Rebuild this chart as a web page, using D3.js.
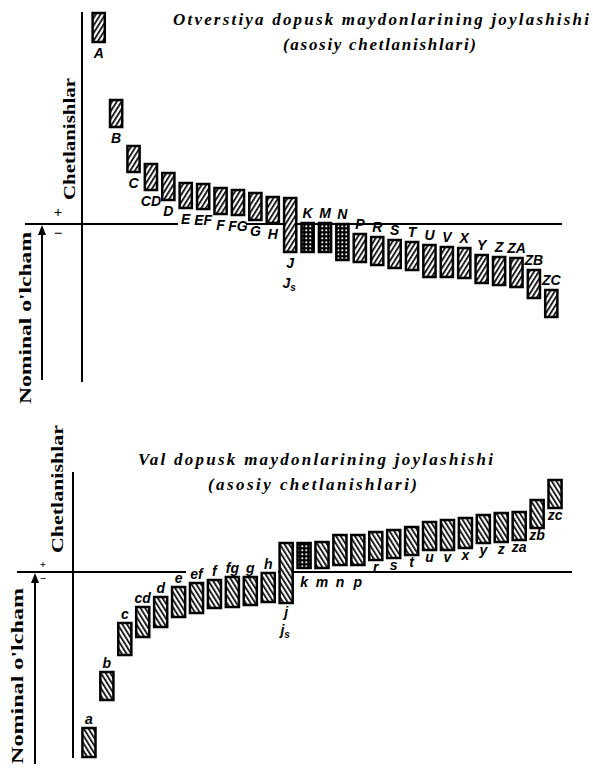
<!DOCTYPE html>
<html>
<head>
<meta charset="utf-8">
<script src="https://cdn.jsdelivr.net/npm/d3@7"></script>
<style>
  body { margin: 0; background: #fff; }
  .lbl { font-family: "Liberation Sans Narrow", "Liberation Sans", Arial, sans-serif; font-weight: bold; font-style: italic; font-size: 14px; }
  .ttl { font-family: "Liberation Serif", "DejaVu Serif", serif; font-weight: bold; font-style: italic; font-size: 17px; }
  .ax { font-family: "Liberation Serif", "DejaVu Serif", serif; font-weight: bold; font-size: 17px; }
</style>
</head>
<body>
<svg id="chart" width="593" height="768"></svg>
<script>
// hole (otverstiya) fundamental deviations, units
var holeLabels = ["A","B","C","CD","D","E","EF","F","FG","G","H","J","K","M","N","P","R","S","T","U","V","X","Y","Z","ZA","ZB","ZC"];
var holeUpper = [211, 124, 78, 60, 51, 41, 40, 36, 34, 31, 27, 26, 1, 1, 0, -10, -13, -16, -18, -21, -23, -24, -31, -33, -34, -46, -66];
var holeLower = [182, 97, 52, 34, 24, 16, 15, 10, 9, 4, 1, -28, -28, -28, -36, -38, -41, -44, -46, -53, -53, -54, -59, -61, -63, -74, -93];
var holeGrid = ["K", "M", "N"];

// shaft (val) fundamental deviations
var shaftLabels = ["a","b","c","cd","d","e","ef","f","fg","g","h","j","k","m","n","p","r","s","t","u","v","x","y","z","za","zb","zc"];
var shaftUpper = [-156, -100, -51, -35, -25, -15, -11, -8, -5, -5, -1, 29, 29, 30, 37, 37, 40, 42, 45, 50, 52, 54, 57, 59, 60, 72, 92];
var shaftLower = [-185, -128, -83, -65, -55, -45, -41, -36, -35, -33, -30, -31, 4, 4, 7, 7, 12, 14, 17, 22, 22, 24, 29, 30, 32, 44, 64];
var shaftGrid = ["k"];

var svg = d3.select("#chart");
var defs = svg.append("defs");

function hatch(id, dir) {
    var p = defs.append("pattern")
        .attr("id", id)
        .attr("patternUnits", "userSpaceOnUse")
        .attr("width", 4).attr("height", 4)
        .attr("patternTransform", "rotate(" + dir + ")");
    p.append("rect").attr("width", 4).attr("height", 4).attr("fill", "#fff");
    p.append("line").attr("x1", 0).attr("y1", 0).attr("x2", 0).attr("y2", 4)
        .attr("stroke", "#000").attr("stroke-width", 3.4);
}
hatch("hatchUp", 32);
hatch("hatchDown", -32);

var grid = defs.append("pattern")
    .attr("id", "grid")
    .attr("patternUnits", "userSpaceOnUse")
    .attr("width", 4).attr("height", 4);
grid.append("rect").attr("width", 4).attr("height", 4).attr("fill", "#000");
grid.append("rect").attr("x", 1.4).attr("y", 1.4).attr("width", 1.8).attr("height", 1.8).attr("fill", "#fff");

// ---------- top chart: holes ----------
var xTop = d3.scaleBand().domain(holeLabels).range([90, 560]).paddingInner(0.3).paddingOuter(0.15);
var yTop = d3.scaleLinear().domain([-160, 212]).range([384, 12]);

var topG = svg.append("g");

topG.append("line").attr("x1", 82).attr("x2", 82).attr("y1", yTop(212)).attr("y2", yTop(-158))
    .attr("stroke", "#000").attr("stroke-width", 2);
topG.append("line").attr("x1", 25).attr("x2", 178).attr("y1", yTop(0)).attr("y2", yTop(0))
    .attr("stroke", "#000").attr("stroke-width", 2);
topG.append("line").attr("x1", 246).attr("x2", 562).attr("y1", yTop(0)).attr("y2", yTop(0))
    .attr("stroke", "#000").attr("stroke-width", 2);

// nominal size arrow
topG.append("line").attr("x1", 42).attr("x2", 42).attr("y1", yTop(0) + 8).attr("y2", yTop(-156))
    .attr("stroke", "#000").attr("stroke-width", 2);
topG.append("path").attr("d", "M38," + (yTop(0) + 11) + " L42," + (yTop(0) + 1) + " L46," + (yTop(0) + 11) + "Z").attr("fill", "#000");

topG.append("text").attr("class", "ax").attr("x", 58).attr("y", yTop(0) - 7).attr("text-anchor", "middle").style("font-size", "15px").text("+");
topG.append("text").attr("class", "ax").attr("x", 58).attr("y", yTop(0) + 14).attr("text-anchor", "middle").style("font-size", "15px").text("−");
topG.append("text").attr("class", "ax")
    .attr("transform", "translate(75,139) rotate(-90)")
    .attr("text-anchor", "middle").attr("textLength", 122).attr("lengthAdjust", "spacingAndGlyphs")
    .text("Chetlanishlar");
topG.append("text").attr("class", "ax")
    .attr("transform", "translate(31,318) rotate(-90)")
    .attr("text-anchor", "middle").attr("textLength", 172).attr("lengthAdjust", "spacingAndGlyphs")
    .text("Nominal o'lcham");

topG.append("text").attr("class", "ttl").attr("x", 173).attr("y", 25)
    .attr("textLength", 416).attr("lengthAdjust", "spacing")
    .text("Otverstiya dopusk maydonlarining joylashishi");
topG.append("text").attr("class", "ttl").attr("x", 283).attr("y", 50)
    .attr("textLength", 193).attr("lengthAdjust", "spacing")
    .text("(asosiy chetlanishlari)");

topG.selectAll("rect.bar")
    .data(holeLabels)
    .enter()
    .append("rect")
    .attr("class", "bar")
    .attr("x", function (d) { return xTop(d); })
    .attr("width", xTop.bandwidth())
    .attr("y", function (d, i) { return yTop(holeUpper[i]); })
    .attr("height", function (d, i) { return yTop(holeLower[i]) - yTop(holeUpper[i]); })
    .attr("fill", function (d) { return holeGrid.indexOf(d) > -1 ? "url(#grid)" : "url(#hatchUp)"; })
    .attr("stroke", "#000")
    .attr("stroke-width", 2.5);

topG.selectAll("text.lbl")
    .data(holeLabels)
    .enter()
    .append("text")
    .attr("class", "lbl")
    .attr("text-anchor", "middle")
    .attr("x", function (d) { return xTop(d) + xTop.bandwidth() / 2; })
    .attr("y", function (d, i) {
        if (holeLower[i] >= 0 || d === "J") return yTop(holeLower[i]) + 16;
        return yTop(holeUpper[i]) - 5;
    })
    .text(function (d) { return d; });

topG.append("text").attr("class", "lbl").attr("text-anchor", "middle")
    .attr("x", xTop("J") + xTop.bandwidth() / 2 - 1).attr("y", yTop(holeLower[11]) + 36)
    .text("J").append("tspan").attr("dy", 3).style("font-size", "10px").text("s");

// ---------- bottom chart: shafts ----------
var xBot = d3.scaleBand().domain(shaftLabels).range([80, 564]).paddingInner(0.27).paddingOuter(0.135);
var yBot = d3.scaleLinear().domain([-190, 110]).range([762, 462]);

var botG = svg.append("g");

botG.append("line").attr("x1", 73).attr("x2", 73).attr("y1", yBot(100)).attr("y2", yBot(-186))
    .attr("stroke", "#000").attr("stroke-width", 2);
botG.append("line").attr("x1", 17).attr("x2", 186).attr("y1", yBot(0)).attr("y2", yBot(0))
    .attr("stroke", "#000").attr("stroke-width", 2);
botG.append("line").attr("x1", 278).attr("x2", 572).attr("y1", yBot(0)).attr("y2", yBot(0))
    .attr("stroke", "#000").attr("stroke-width", 2);

botG.append("line").attr("x1", 35).attr("x2", 35).attr("y1", yBot(0) + 8).attr("y2", yBot(-192))
    .attr("stroke", "#000").attr("stroke-width", 2);
botG.append("path").attr("d", "M31," + (yBot(0) + 11) + " L35," + (yBot(0) + 1) + " L39," + (yBot(0) + 11) + "Z").attr("fill", "#000");

botG.append("text").attr("class", "ax").attr("x", 43).attr("y", yBot(0) - 4).attr("text-anchor", "middle").style("font-size", "11px").text("+");
botG.append("text").attr("class", "ax").attr("x", 43).attr("y", yBot(0) + 10).attr("text-anchor", "middle").style("font-size", "11px").text("−");
botG.append("text").attr("class", "ax")
    .attr("transform", "translate(63,489) rotate(-90)")
    .attr("text-anchor", "middle").attr("textLength", 128).attr("lengthAdjust", "spacingAndGlyphs")
    .text("Chetlanishlar");
botG.append("text").attr("class", "ax")
    .attr("transform", "translate(23,676) rotate(-90)")
    .attr("text-anchor", "middle").attr("textLength", 176).attr("lengthAdjust", "spacingAndGlyphs")
    .text("Nominal o'lcham");

botG.append("text").attr("class", "ttl").attr("x", 138).attr("y", 465)
    .attr("textLength", 355).attr("lengthAdjust", "spacing")
    .text("Val dopusk maydonlarining joylashishi");
botG.append("text").attr("class", "ttl").attr("x", 208).attr("y", 490)
    .attr("textLength", 209).attr("lengthAdjust", "spacing")
    .text("(asosiy chetlanishlari)");

botG.selectAll("rect.bar")
    .data(shaftLabels)
    .enter()
    .append("rect")
    .attr("class", "bar")
    .attr("x", function (d) { return xBot(d); })
    .attr("width", xBot.bandwidth())
    .attr("y", function (d, i) { return yBot(shaftUpper[i]); })
    .attr("height", function (d, i) { return yBot(shaftLower[i]) - yBot(shaftUpper[i]); })
    .attr("fill", function (d) { return shaftGrid.indexOf(d) > -1 ? "url(#grid)" : "url(#hatchDown)"; })
    .attr("stroke", "#000")
    .attr("stroke-width", 2.5);

botG.selectAll("text.lbl")
    .data(shaftLabels)
    .enter()
    .append("text")
    .attr("class", "lbl")
    .attr("text-anchor", "middle")
    .attr("x", function (d) { return xBot(d) + xBot.bandwidth() / 2; })
    .attr("y", function (d, i) {
        if (shaftUpper[i] <= 0) return yBot(shaftUpper[i]) - 4;
        if (d === "j") return yBot(shaftLower[i]) + 14;
        if (shaftLower[i] < 10) return yBot(0) + 15;
        return yBot(shaftLower[i]) + 12;
    })
    .text(function (d) { return d; });

botG.append("text").attr("class", "lbl").attr("text-anchor", "middle")
    .attr("x", xBot("j") + xBot.bandwidth() / 2 - 1).attr("y", yBot(shaftLower[11]) + 32)
    .text("j").append("tspan").attr("dy", 3).style("font-size", "10px").text("s");
</script>
</body>
</html>
